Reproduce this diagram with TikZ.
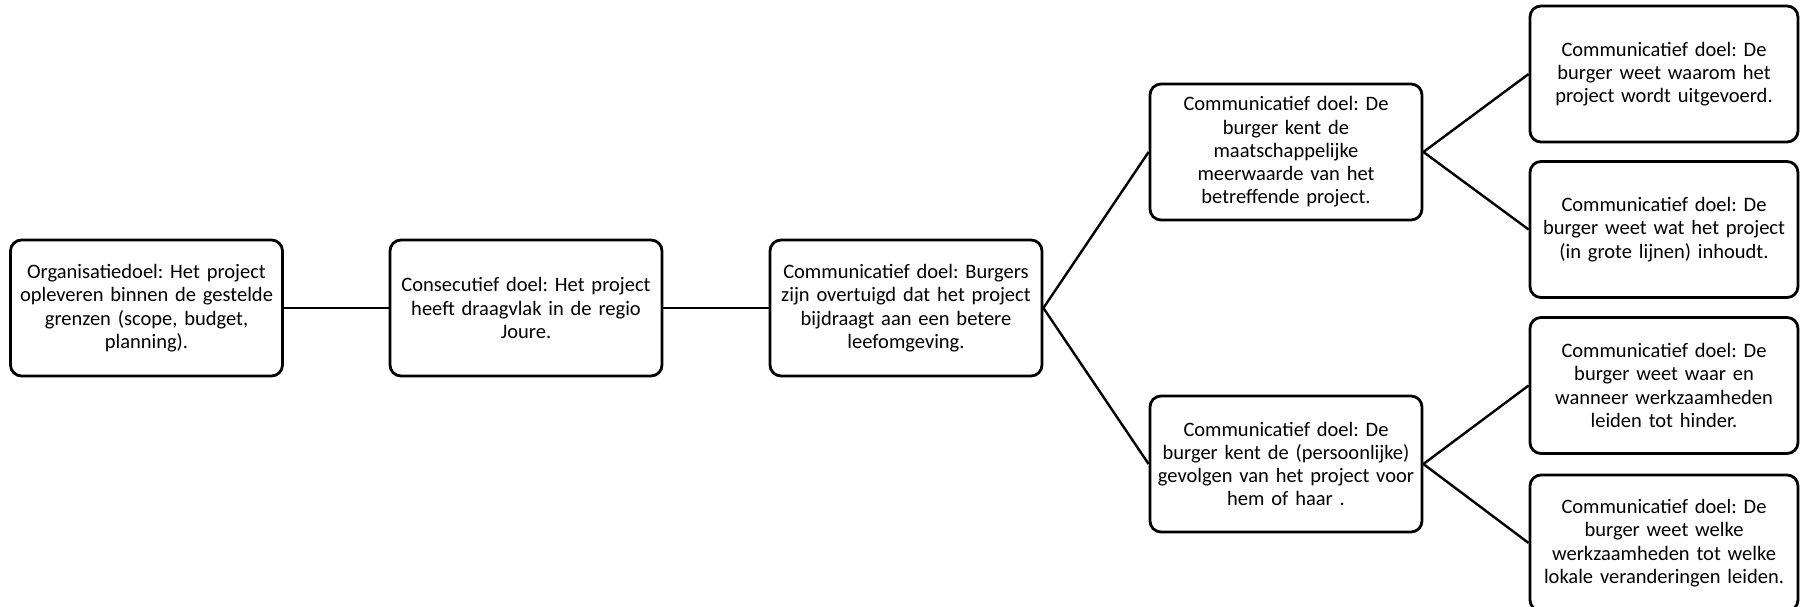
\documentclass[tikz,border=0pt]{standalone}
\usepackage{fontspec}
\setmainfont{Carlito}
\frenchspacing
\begin{document}
\begin{tikzpicture}[x=1pt,y=-1pt,
  box/.style={draw, line width=2.8pt, rounded corners=11pt, minimum width=272pt,
    minimum height=136pt, text width=268pt, align=center, inner sep=0pt,
    font=\fontsize{20.5}{23.3}\selectfont},
  rbox/.style={box, minimum width=268pt, text width=264pt},
  link/.style={line width=2.4pt}]
\useasboundingbox (0,0) rectangle (1800,607);
\node[box] (a) at (146.5,308) {Organisatiedoel: Het project\\opleveren binnen de gestelde\\grenzen (scope, budget,\\planning).};
\node[box] (b) at (526,308) {Consecutief doel: Het project\\heeft draagvlak in de regio\\Joure.};
\node[box] (c) at (906,308) {Communicatief doel: Burgers\\zijn overtuigd dat het project\\bijdraagt aan een betere\\leefomgeving.};
\node[box] (d) at (1286,152) {Communicatief doel: De\\burger kent de\\maatschappelijke\\meerwaarde van het\\betreffende project.};
\node[box] (e) at (1286,464) {Communicatief doel: De\\burger kent de (persoonlijke)\\gevolgen van het project voor\\hem of haar .};
\node[rbox] (f) at (1664,74) {Communicatief doel: De\\burger weet waarom het\\project wordt uitgevoerd.};
\node[rbox] (g) at (1664,229.5) {Communicatief doel: De\\burger weet wat het project\\(in grote lijnen) inhoudt.};
\node[rbox] (h) at (1664,385.5) {Communicatief doel: De\\burger weet waar en\\wanneer werkzaamheden\\leiden tot hinder.};
\node[rbox] (i) at (1664,543) {Communicatief doel: De\\burger weet welke\\werkzaamheden tot welke\\lokale veranderingen leiden.};
\draw[link] (a.east) -- (b.west);
\draw[link] (b.east) -- (c.west);
\draw[link] (c.east) -- (d.west);
\draw[link] (c.east) -- (e.west);
\draw[link] (d.east) -- (f.west);
\draw[link] (d.east) -- (g.west);
\draw[link] (e.east) -- (h.west);
\draw[link] (e.east) -- (i.west);
\end{tikzpicture}
\end{document}
